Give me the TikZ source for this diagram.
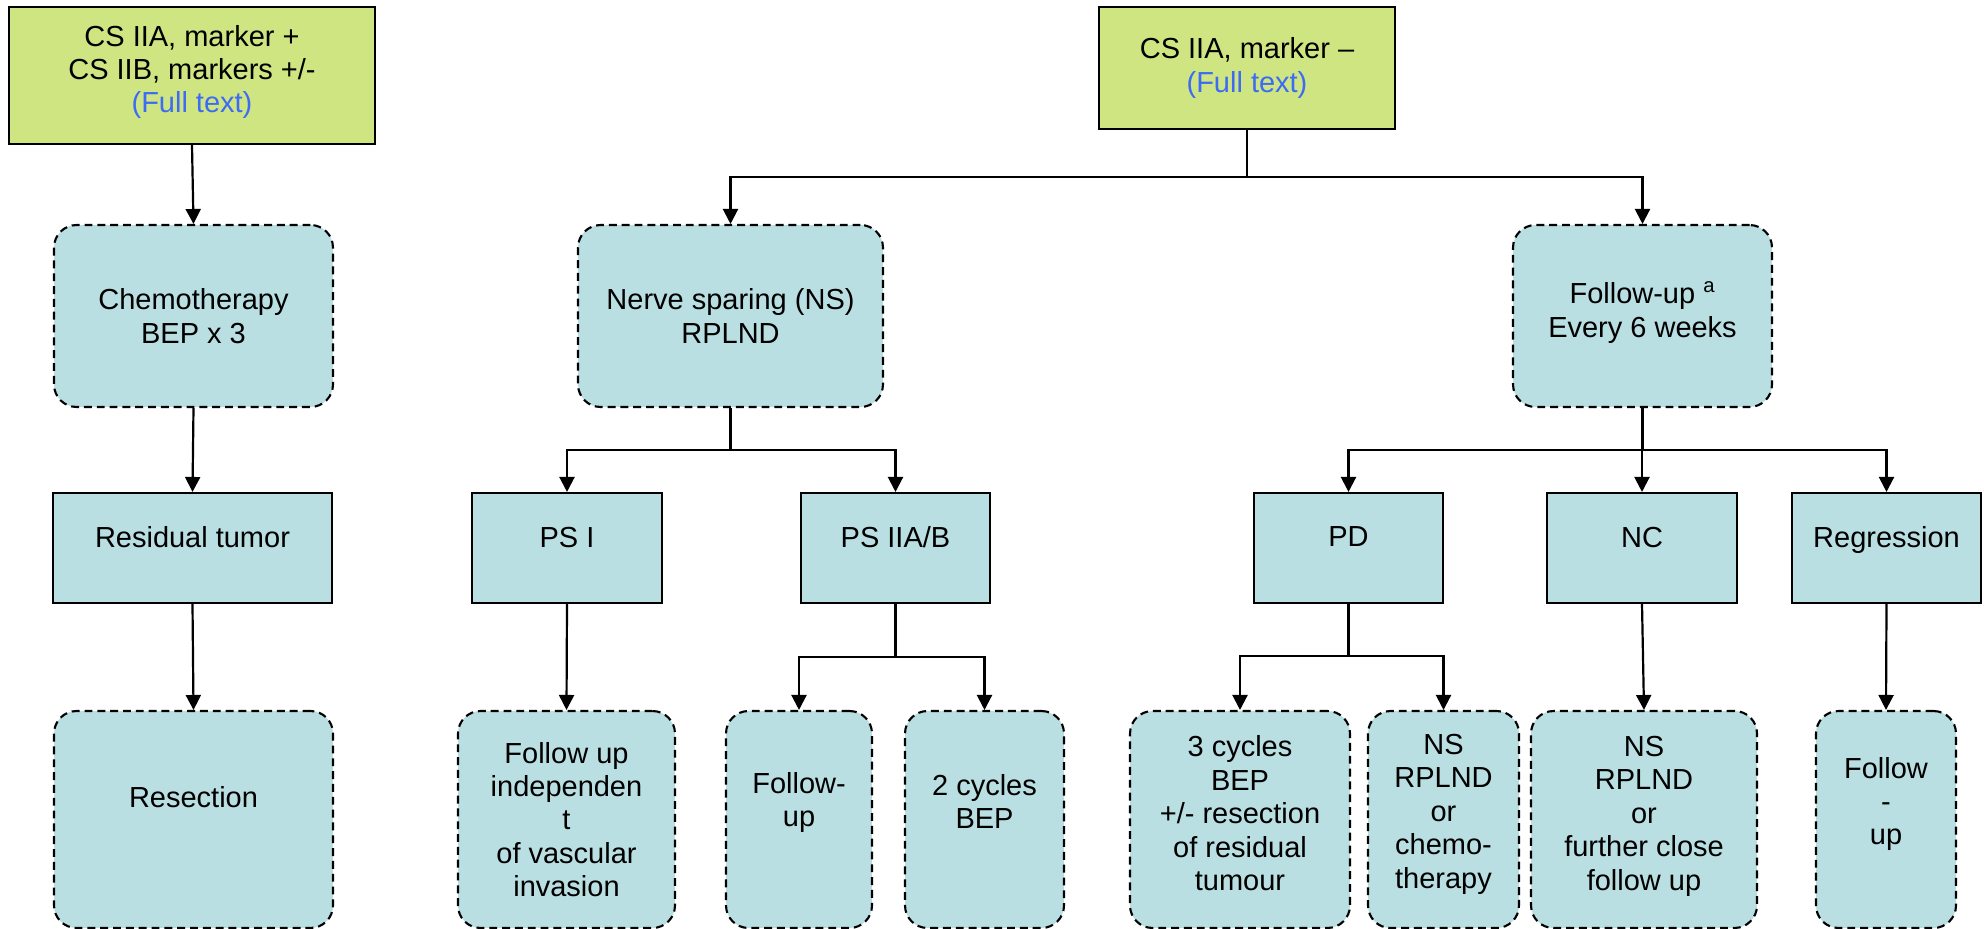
\documentclass[tikz,border=0pt]{standalone}
\usepackage{fontspec}
\setmainfont{Liberation Sans}
\usepackage{xcolor}
\usepackage{tikz}
\usetikzlibrary{arrows.meta,positioning}

\definecolor{stagegreen}{RGB}{206,229,129}
\definecolor{careblue}{RGB}{185,223,226}
\definecolor{linkblue}{RGB}{61,107,245}

% extra depth below the last line, lifts the text inside its box
\newcommand{\lowstrut}[1]{\rule[-#1]{0pt}{0pt}}

\begin{document}
\begin{tikzpicture}[x=0.02cm, y=-0.02cm,
    font=\fontsize{16.5pt}{19pt}\selectfont,
    stagebox/.style={draw, line width=1.2pt, fill=stagegreen, align=center},
    carebox/.style={draw, line width=1.2pt, dash pattern=on 4.5pt off 2.8pt, rounded corners=0.45cm, fill=careblue, align=center},
    statebox/.style={draw, line width=1.2pt, fill=careblue, align=center},
    link/.style={line width=1.25pt, -{Triangle[length=0.3cm,width=0.3cm]}},
    trunk/.style={line width=1.25pt}]

    \useasboundingbox (0,0) rectangle (1984,929);

    % Top: clinical stages
    \node[stagebox, minimum width=7.32cm, minimum height=2.74cm] (cspos) at (192,75.5) {CS IIA, marker +\\CS IIB, markers +/-\\\textcolor{linkblue}{(Full text)}\lowstrut{0.26cm}};
    \node[stagebox, minimum width=5.92cm, minimum height=2.44cm] (csneg) at (1247,68) {CS IIA, marker --\\\textcolor{linkblue}{(Full text)}};

    % First treatment step
    \node[carebox, minimum width=5.58cm, minimum height=3.64cm] (chemo) at (193.5,316) {Chemotherapy\\BEP x 3};
    \node[carebox, minimum width=6.1cm, minimum height=3.64cm] (nerve) at (730.5,316) {Nerve sparing (NS)\\RPLND};
    \node[carebox, minimum width=5.18cm, minimum height=3.64cm] (watch) at (1642.5,316) {Follow-up \textsuperscript{a}\\Every 6 weeks\lowstrut{0.26cm}};

    % Findings
    \node[statebox, minimum width=5.58cm, minimum height=2.2cm] (resid) at (192.5,548) {Residual tumor\lowstrut{0.44cm}};
    \node[statebox, minimum width=3.8cm, minimum height=2.2cm] (psone) at (567,548) {PS I\lowstrut{0.44cm}};
    \node[statebox, minimum width=3.78cm, minimum height=2.2cm] (pstwo) at (895.5,548) {PS IIA/B\lowstrut{0.44cm}};
    \node[statebox, minimum width=3.78cm, minimum height=2.2cm] (pd) at (1348.5,548) {PD\lowstrut{0.44cm}};
    \node[statebox, minimum width=3.8cm, minimum height=2.2cm] (nc) at (1642,548) {NC\lowstrut{0.44cm}};
    \node[statebox, minimum width=3.78cm, minimum height=2.2cm] (regr) at (1886.5,548) {Regression\lowstrut{0.44cm}};

    % Further treatment
    \node[carebox, minimum width=5.58cm, minimum height=4.34cm] (resec) at (193.5,819.5) {Resection\lowstrut{0.9cm}};
    \node[carebox, minimum width=4.34cm, minimum height=4.34cm] (fupind) at (566.5,819.5) {Follow up\\independen\\t\\of vascular\\invasion};
    \node[carebox, minimum width=2.92cm, minimum height=4.34cm] (fupa) at (799,819.5) {Follow-\\up\lowstrut{0.8cm}};
    \node[carebox, minimum width=3.18cm, minimum height=4.34cm] (beptwo) at (984.5,819.5) {2 cycles\\BEP\lowstrut{0.72cm}};
    \node[carebox, minimum width=4.4cm, minimum height=4.34cm] (bepthree) at (1240,819.5) {3 cycles\\BEP\\+/- resection\\of residual\\tumour\lowstrut{0.25cm}};
    \node[carebox, minimum width=3.02cm, minimum height=4.34cm] (nsor) at (1443.5,819.5) {NS\\RPLND\\or\\chemo-\\therapy\lowstrut{0.33cm}};
    \node[carebox, minimum width=4.52cm, minimum height=4.34cm] (nsclose) at (1644,819.5) {NS\\RPLND\\or\\further close\\follow up\lowstrut{0.25cm}};
    \node[carebox, minimum width=2.8cm, minimum height=4.34cm] (fupb) at (1886,819.5) {Follow\\-\\up\lowstrut{0.74cm}};

    % Left branch
    \draw[link] (cspos.south) -- (chemo.north);
    \draw[link] (chemo.south) -- (resid.north);
    \draw[link] (resid.south) -- (resec.north);

    % Right branch
    \coordinate (jnneg) at (csneg.south |- 0,177);
    \draw[trunk] (csneg.south) -- (jnneg);
    \draw[link] (jnneg) -| (nerve.north);
    \draw[link] (jnneg) -| (watch.north);

    \coordinate (jnnerve) at (nerve.south |- 0,450);
    \draw[trunk] (nerve.south) -- (jnnerve);
    \draw[link] (jnnerve) -| (psone.north);
    \draw[link] (jnnerve) -| (pstwo.north);

    \draw[link] (psone.south) -- (fupind.north);

    \coordinate (jnps) at (pstwo.south |- 0,657);
    \draw[trunk] (pstwo.south) -- (jnps);
    \draw[link] (jnps) -| (fupa.north);
    \draw[link] (jnps) -| (beptwo.north);

    \coordinate (jnwatch) at (watch.south |- 0,450);
    \draw[trunk] (watch.south) -- (jnwatch);
    \draw[link] (jnwatch) -| (pd.north);
    \draw[link] (jnwatch) -| (nc.north);
    \draw[link] (jnwatch) -| (regr.north);

    \coordinate (jnpd) at (pd.south |- 0,656);
    \draw[trunk] (pd.south) -- (jnpd);
    \draw[link] (jnpd) -| (bepthree.north);
    \draw[link] (jnpd) -| (nsor.north);

    \draw[link] (nc.south) -- (nsclose.north);
    \draw[link] (regr.south) -- (fupb.north);

\end{tikzpicture}
\end{document}
